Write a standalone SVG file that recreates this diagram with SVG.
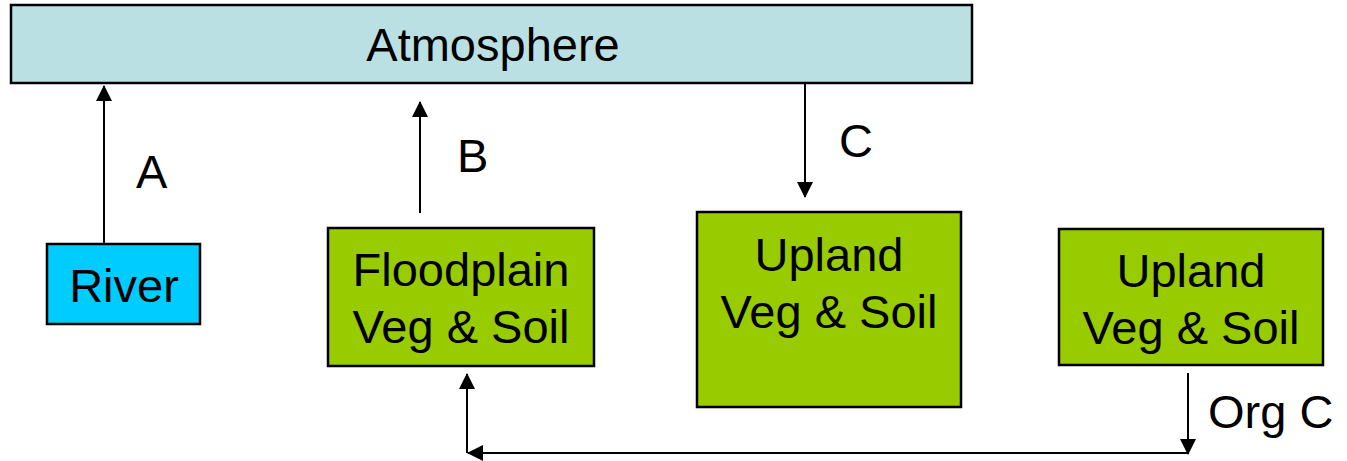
<svg xmlns="http://www.w3.org/2000/svg" width="1347" height="461" viewBox="0 0 1347 461">
<defs>
<style>
.box{stroke:#000;stroke-width:2.5}
.t{font-family:"Liberation Sans",Arial,sans-serif;font-size:47px;fill:#000;text-anchor:middle}
.l{font-family:"Liberation Sans",Arial,sans-serif;font-size:47px;fill:#000}
.c{stroke:#000;stroke-width:2;fill:none}
</style>
<marker id="ah2" markerWidth="16" markerHeight="16" refX="15" refY="8" orient="auto" markerUnits="userSpaceOnUse" viewBox="0 0 16 16">
<path d="M0,0 L16,8 L0,16 Z" fill="#000"/>
</marker>
</defs>
<g id="atmosphere">
<rect class="box" x="11" y="5" width="961" height="78" fill="#BBE0E3"/>
<text class="t" x="493" y="61" font-size="44">Atmosphere</text>
</g>
<g id="river">
<rect class="box" x="47" y="244" width="153" height="80" fill="#00CCFF"/>
<text class="t" x="124" y="302">River</text>
</g>
<g id="floodplain">
<rect class="box" x="328" y="228" width="266" height="138" fill="#99CC00"/>
<text class="t" x="461" y="286">Floodplain</text>
<text class="t" x="461" y="343">Veg &amp; Soil</text>
</g>
<g id="upland1">
<rect class="box" x="697" y="212" width="264" height="195" fill="#99CC00"/>
<text class="t" x="829" y="271">Upland</text>
<text class="t" x="829" y="328">Veg &amp; Soil</text>
</g>
<g id="upland2">
<rect class="box" x="1059" y="229" width="264" height="136" fill="#99CC00"/>
<text class="t" x="1191" y="287">Upland</text>
<text class="t" x="1191" y="344">Veg &amp; Soil</text>
</g>
<g id="connectors">
<line class="c" x1="104" y1="243" x2="104" y2="86" marker-end="url(#ah2)"/>
<line class="c" x1="420" y1="213" x2="420" y2="102" marker-end="url(#ah2)"/>
<line class="c" x1="805" y1="84" x2="805" y2="197" marker-end="url(#ah2)"/>
<line class="c" x1="1188" y1="373" x2="1188" y2="454" marker-end="url(#ah2)"/>
<line class="c" x1="1188" y1="453" x2="468" y2="453" marker-end="url(#ah2)"/>
<line class="c" x1="467" y1="453" x2="467" y2="374" marker-end="url(#ah2)"/>
</g>
<g id="labels">
<text class="l" x="136" y="188">A</text>
<text class="l" x="457" y="172">B</text>
<text class="l" x="839" y="157">C</text>
<text class="l" x="1208" y="428">Org C</text>
</g>
</svg>
